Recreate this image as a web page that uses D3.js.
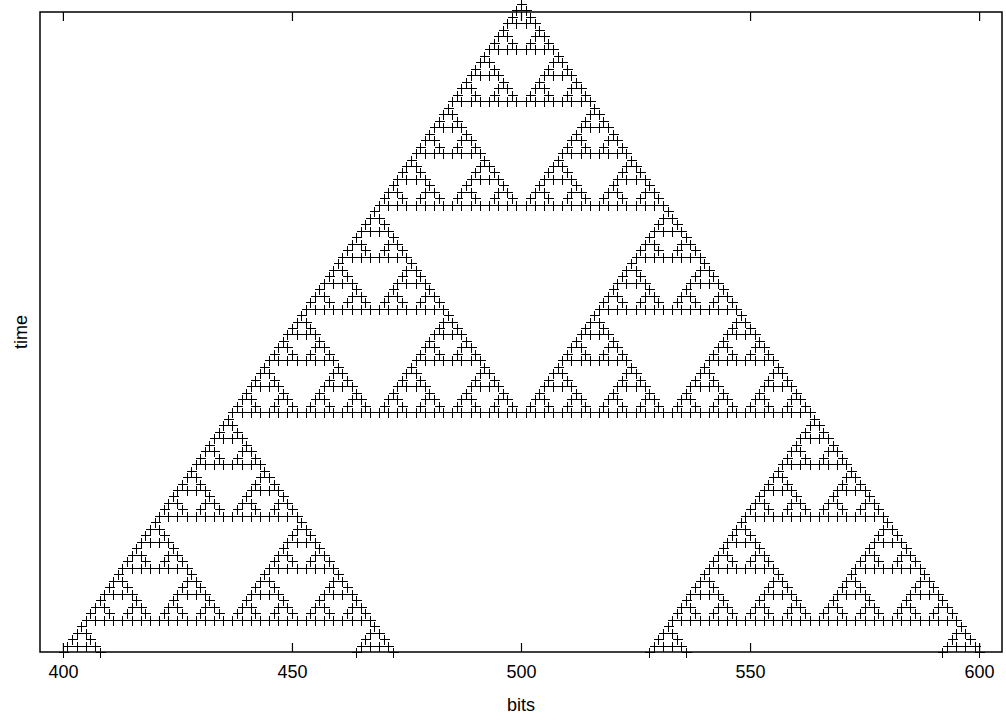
<!DOCTYPE html>
<html>
<head>
<meta charset="utf-8">
<script src="https://cdn.jsdelivr.net/npm/d3@7"></script>
<style>
  body { margin: 0; background: #fff; }
  svg { display: block; font-family: "Liberation Sans", Arial, sans-serif; }
</style>
</head>
<body>
<div id="chart"></div>
<script>
// rule 90 run: a single live bit at 500, followed for 100 steps
const seedCells = [500];
const ruleTable = [0, 1, 0, 1, 1, 0, 1, 0]; // new bit for neighbourhoods 111,110,101,100,011,010,001,000
const bitSpan = [395, 605];
const timeSpan = [0, 100];
const xTicks = [400, 450, 500, 550, 600];

// step the automaton, keeping every live (bit, time) pair
let cells = new Set(seedCells);
const points = [];
for (let t = timeSpan[0]; t <= timeSpan[1]; t++) {
    cells.forEach(b => points.push({ bit: b, time: t }));
    const next = new Set();
    for (let b = bitSpan[0]; b <= bitSpan[1]; b++) {
        const n = (cells.has(b - 1) ? 4 : 0) + (cells.has(b) ? 2 : 0) + (cells.has(b + 1) ? 1 : 0);
        if (ruleTable[7 - n]) next.add(b);
    }
    cells = next;
}

const width = 1006;
const height = 723;
const margin = { top: 12, right: 4, bottom: 71, left: 40 };

const svg = d3.select('#chart')
    .append('svg')
    .attr('width', width)
    .attr('height', height);

const x = d3.scaleLinear()
    .domain(bitSpan)
    .range([margin.left, width - margin.right]);

// time runs down the page; the first row pokes just above the border
const y = d3.scaleLinear()
    .domain(timeSpan)
    .range([4, height - margin.bottom]);

// border
svg.append('rect')
    .attr('x', margin.left)
    .attr('y', margin.top)
    .attr('width', width - margin.left - margin.right)
    .attr('height', height - margin.top - margin.bottom)
    .attr('fill', 'none')
    .attr('stroke', '#000')
    .attr('stroke-width', 1.5);

// bottom axis, ticks pointing in
svg.append('g')
    .attr('transform', `translate(0,${height - margin.bottom})`)
    .call(d3.axisBottom(x).tickValues(xTicks).tickSize(-9).tickPadding(13).tickFormat(d3.format('d')))
    .call(g => g.select('.domain').remove())
    .call(g => g.selectAll('line').attr('stroke-width', 1.2))
    .call(g => g.selectAll('text').attr('font-size', 18).attr('fill', '#000')
        .attr('font-family', '"Liberation Sans", Arial, sans-serif'));

// mirrored ticks on top
svg.append('g')
    .attr('transform', `translate(0,${margin.top})`)
    .call(d3.axisTop(x).tickValues(xTicks).tickSize(-9).tickFormat(''))
    .call(g => g.select('.domain').remove())
    .call(g => g.selectAll('line').attr('stroke-width', 1.2));

// points drawn as '+' marks
svg.append('g')
    .attr('stroke', '#000')
    .attr('stroke-width', 1)
    .attr('fill', 'none')
    .attr('shape-rendering', 'crispEdges')
    .selectAll('path')
    .data(points)
    .join('path')
    .attr('d', d => {
        const cx = Math.round(x(d.bit)) + 0.5;
        const cy = Math.round(y(d.time)) + 0.5;
        return `M${cx - 5},${cy}h10M${cx},${cy - 5}v10`;
    });

// axis titles
svg.append('text')
    .attr('x', (margin.left + width - margin.right) / 2)
    .attr('y', 711)
    .attr('text-anchor', 'middle')
    .attr('font-size', 18)
    .text('bits');

svg.append('text')
    .attr('transform', `translate(27,${(margin.top + height - margin.bottom) / 2}) rotate(-90)`)
    .attr('text-anchor', 'middle')
    .attr('font-size', 18)
    .text('time');
</script>
</body>
</html>
